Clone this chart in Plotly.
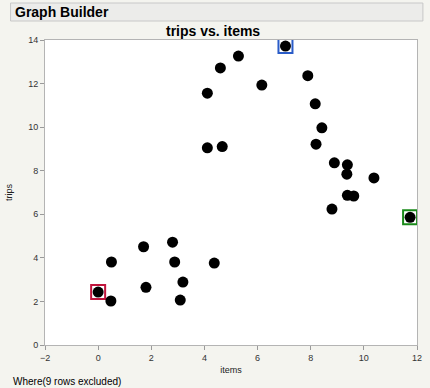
import plotly.graph_objects as go

items = [0.0, 0.48, 0.5, 1.71, 1.80, 2.80, 2.88, 3.19, 3.09, 4.37,
         4.11, 4.11, 4.60, 4.67, 5.28, 7.05, 6.16, 7.89, 8.17, 8.42,
         8.20, 8.89, 9.38, 9.36, 10.38, 9.38, 9.62, 8.80, 11.74]
trips = [2.43, 2.02, 3.81, 4.51, 2.65, 4.72, 3.81, 2.89, 2.06, 3.76,
         11.56, 9.05, 12.72, 9.11, 13.26, 13.72, 11.93, 12.36, 11.07, 9.97,
         9.22, 8.36, 8.27, 7.84, 7.67, 6.87, 6.84, 6.24, 5.86]

hl_items = [0.0, 7.05, 11.74]
hl_trips = [2.43, 13.72, 5.86]
hl_colors = ["#c0143c", "#2a5cc8", "#1a8a1a"]

BG = "#f4f4ef"
W, H = 430, 388
L, R, T, B = 44, 8, 40, 43
pw, ph = W - L - R, H - T - B

def px(x):
    return (x - L) / pw

def py(y):
    return (H - B - y) / ph

fig = go.Figure()
fig.add_trace(go.Scatter(
    x=hl_items, y=hl_trips, mode="markers",
    marker=dict(symbol="square", size=14, color="white",
                line=dict(color=hl_colors, width=2)),
    hoverinfo="skip", showlegend=False))
fig.add_trace(go.Scatter(
    x=items, y=trips, mode="markers",
    marker=dict(symbol="circle", size=11, color="black", line=dict(width=0)),
    showlegend=False))

axis_common = dict(
    showgrid=False, zeroline=False, showline=True, mirror=True,
    linecolor="#b4b4b4", linewidth=1, ticks="outside", ticklen=4,
    tickcolor="#9a9a9a", tickfont=dict(family="Liberation Sans, Arial", size=9, color="#333"),
)

fig.update_layout(
    width=W, height=H, margin=dict(l=L, r=R, t=T, b=B),
    paper_bgcolor=BG, plot_bgcolor="white",
    xaxis=dict(range=[-2, 12], dtick=2, **axis_common,
               title=dict(text="items", font=dict(family="Liberation Sans, Arial", size=9, color="#222"), standoff=4)),
    yaxis=dict(range=[0, 14], dtick=2, **axis_common,
               title=dict(text="trips", font=dict(family="Liberation Sans, Arial", size=9, color="#222"), standoff=14)),
    shapes=[dict(type="rect", xref="paper", yref="paper",
                 x0=px(9), x1=px(428), y0=py(21), y1=py(3),
                 fillcolor="#ececea", line=dict(color="#c8c8c8", width=1), layer="below")],
    annotations=[
        dict(text="<b>Graph Builder</b>", xref="paper", yref="paper",
             x=px(11), y=py(12), xanchor="left", yanchor="middle", showarrow=False,
             font=dict(family="Liberation Sans, Arial", size=14, color="black")),
        dict(text="<b>trips vs. items</b>", xref="paper", yref="paper",
             x=px(215), y=py(31), xanchor="center", yanchor="middle", showarrow=False,
             font=dict(family="Liberation Sans, Arial", size=14, color="black")),
        dict(text="Where(9 rows excluded)", xref="paper", yref="paper",
             x=px(9), y=py(381), xanchor="left", yanchor="middle", showarrow=False,
             font=dict(family="Liberation Sans, Arial", size=10, color="black")),
    ],
)

fig.write_html("out.html")
